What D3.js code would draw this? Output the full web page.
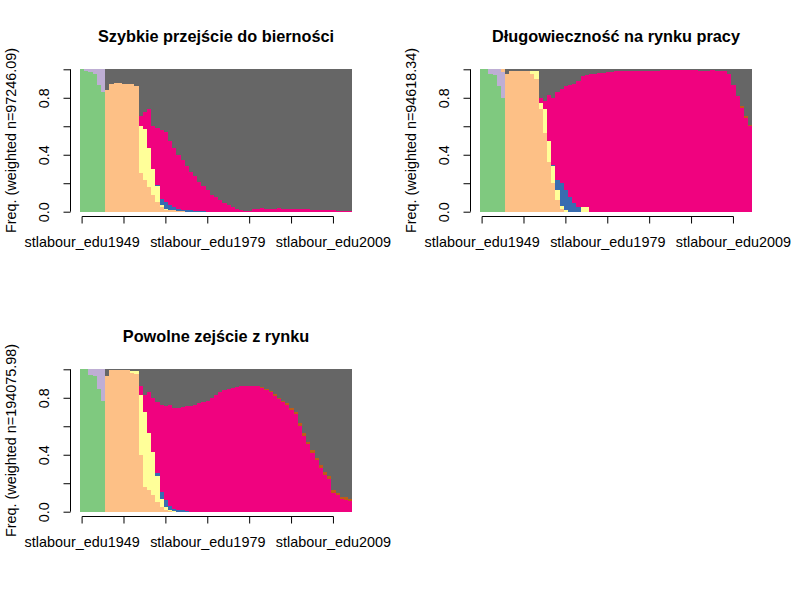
<!DOCTYPE html>
<html><head><meta charset="utf-8">
<script src="https://cdn.jsdelivr.net/npm/d3@7"></script>
<style>body{margin:0;background:#fff}svg{display:block}text{font-family:"Liberation Sans",Arial,sans-serif;fill:#000}</style>
</head><body>
<svg id="c" width="800" height="600"></svg>
<script>
// ---- categories (time columns) ----
const columns = ["stlabour_edu1949","stlabour_edu1950","stlabour_edu1951","stlabour_edu1952","stlabour_edu1953","stlabour_edu1954","stlabour_edu1955","stlabour_edu1956","stlabour_edu1957","stlabour_edu1958",
"stlabour_edu1959","stlabour_edu1960","stlabour_edu1961","stlabour_edu1962","stlabour_edu1963","stlabour_edu1964","stlabour_edu1965","stlabour_edu1966","stlabour_edu1967","stlabour_edu1968",
"stlabour_edu1969","stlabour_edu1970","stlabour_edu1971","stlabour_edu1972","stlabour_edu1973","stlabour_edu1974","stlabour_edu1975","stlabour_edu1976","stlabour_edu1977","stlabour_edu1978",
"stlabour_edu1979","stlabour_edu1980","stlabour_edu1981","stlabour_edu1982","stlabour_edu1983","stlabour_edu1984","stlabour_edu1985","stlabour_edu1986","stlabour_edu1987","stlabour_edu1988",
"stlabour_edu1989","stlabour_edu1990","stlabour_edu1991","stlabour_edu1992","stlabour_edu1993","stlabour_edu1994","stlabour_edu1995","stlabour_edu1996","stlabour_edu1997","stlabour_edu1998",
"stlabour_edu1999","stlabour_edu2000","stlabour_edu2001","stlabour_edu2002","stlabour_edu2003","stlabour_edu2004","stlabour_edu2005","stlabour_edu2006","stlabour_edu2007","stlabour_edu2008",
"stlabour_edu2009","stlabour_edu2010","stlabour_edu2011","stlabour_edu2012","stlabour_edu2013"];
const tickColumns = ["stlabour_edu1949","stlabour_edu1959","stlabour_edu1969","stlabour_edu1979","stlabour_edu1989","stlabour_edu1999","stlabour_edu2009"];
const tickLabels = ["stlabour_edu1949","","","stlabour_edu1979","","","stlabour_edu2009"];
const yTicks = [0,0.2,0.4,0.6,0.8,1.0];
const yTickLabels = ["0.0","","0.4","","0.8",""];
const states = ["A","B","C","D","E","F","G","H"];
const stateColors = ["#7FC97F","#BEAED4","#FDC086","#FFFF99","#386CB0","#F0027F","#BF5B17","#666666"];
const titles = ["Szybkie przejście do bierności","Długowieczność na rynku pracy","Powolne zejście z rynku"];
const yLabels = ["Freq. (weighted n=97246.09)","Freq. (weighted n=94618.34)","Freq. (weighted n=194075.98)"];

// ---- panel 1 ----
const p1A = [1.00,0.99,0.98,0.97,0.89,0.84,0,0,0,0,0,0,0,0,0,0,0,0,0,0,0,0,0,0,0,0,0,0,0,0,0,0,0,0,0,0,0,0,0,0,0,0,0,0,0,0,0,0,0,0,0,0,0,0,0,0,0,0,0,0,0,0,0,0,0];
const p1B = [0,0.01,0.02,0.03,0.11,0.16,0,0,0,0,0,0,0,0,0,0,0,0,0,0,0,0,0,0,0,0,0,0,0,0,0,0,0,0,0,0,0,0,0,0,0,0,0,0,0,0,0,0,0,0,0,0,0,0,0,0,0,0,0,0,0,0,0,0,0];
const p1C = [0,0,0,0,0,0,0.855,0.90,0.905,0.905,0.90,0.90,0.895,0.885,0.27,0.22,0.17,0.12,0.07,0.03,0.01,0.01,0.01,0.005,0.005,0,0,0,0,0,0,0,0,0,0,0,0,0,0,0,0,0,0,0,0,0,0,0,0,0,0,0,0,0,0,0,0,0,0,0,0,0,0,0,0];
const p1D = [0,0,0,0,0,0,0,0,0,0,0,0,0,0,0.33,0.36,0.28,0.18,0.11,0.02,0.01,0.005,0,0,0,0,0,0,0,0,0,0,0,0,0,0,0,0,0,0,0,0,0,0,0,0,0,0,0,0,0,0,0,0,0,0,0,0,0,0,0,0,0,0,0];
const p1E = [0,0,0,0,0,0,0,0,0,0,0,0,0,0,0,0,0,0,0.01,0.04,0.05,0.035,0.02,0.015,0.01,0.01,0.01,0.005,0.005,0.005,0,0,0,0,0,0,0,0,0,0,0,0,0,0,0,0,0,0,0,0,0,0,0,0,0,0,0,0,0,0,0,0,0,0,0];
const p1F = [0,0,0,0,0,0,0,0,0,0,0,0,0,0,0.07,0.12,0.27,0.30,0.40,0.485,0.49,0.45,0.42,0.38,0.345,0.31,0.27,0.245,0.205,0.175,0.15,0.12,0.10,0.08,0.06,0.045,0.03,0.02,0.01,0.003,0.005,0.018,0.022,0.024,0.022,0.02,0.022,0.025,0.022,0.02,0.02,0.018,0.018,0.016,0.016,0.015,0.015,0.014,0.012,0.01,0.01,0.008,0.008,0.006,0.005];
const p1G = [0,0,0,0,0,0,0,0,0,0,0,0,0,0,0,0,0,0,0,0,0,0,0,0,0,0,0,0,0,0,0,0,0,0,0,0,0,0,0,0,0,0,0,0,0,0,0,0,0,0,0,0,0,0,0,0,0,0,0,0,0,0,0,0,0];
const p1H = [0,0,0,0,0,0,0.145,0.10,0.095,0.095,0.10,0.10,0.105,0.115,0.33,0.30,0.28,0.40,0.41,0.425,0.44,0.50,0.55,0.60,0.64,0.68,0.72,0.75,0.79,0.82,0.85,0.88,0.90,0.92,0.94,0.955,0.97,0.98,0.99,0.997,0.995,0.982,0.978,0.976,0.978,0.98,0.978,0.975,0.978,0.98,0.98,0.982,0.982,0.984,0.984,0.985,0.985,0.986,0.988,0.99,0.99,0.992,0.992,0.994,0.995];

// ---- panel 2 ----
const p2A = [1.00,1.00,0.965,0.96,0.88,0.80,0,0,0,0,0,0,0,0,0,0,0,0,0,0,0,0,0,0,0,0,0,0,0,0,0,0,0,0,0,0,0,0,0,0,0,0,0,0,0,0,0,0,0,0,0,0,0,0,0,0,0,0,0,0,0,0,0,0,0];
const p2B = [0,0,0.035,0.04,0.12,0.18,0,0,0,0,0,0,0,0,0,0,0,0,0,0,0,0,0,0,0,0,0,0,0,0,0,0,0,0,0,0,0,0,0,0,0,0,0,0,0,0,0,0,0,0,0,0,0,0,0,0,0,0,0,0,0,0,0,0,0];
const p2C = [0,0,0,0,0,0.02,0.965,0.985,0.99,0.99,0.99,0.985,0.97,0.93,0.72,0.55,0.35,0.20,0.08,0.02,0,0,0,0,0,0,0,0,0,0,0,0,0,0,0,0,0,0,0,0,0,0,0,0,0,0,0,0,0,0,0,0,0,0,0,0,0,0,0,0,0,0,0,0,0];
const p2D = [0,0,0,0,0,0,0,0,0,0,0,0.005,0.02,0.06,0.04,0.17,0.15,0.12,0.07,0.02,0.01,0,0,0,0.035,0.03,0,0,0,0,0,0,0,0,0,0,0,0,0,0,0,0,0,0,0,0,0,0,0,0,0,0,0,0,0,0,0,0,0,0,0,0,0,0,0];
const p2E = [0,0,0,0,0,0,0,0,0,0,0,0,0,0,0,0,0,0.01,0.07,0.16,0.14,0.10,0.06,0.03,0,0,0,0,0,0,0,0,0,0,0,0,0,0,0,0,0,0,0,0,0,0,0,0,0,0,0,0,0,0,0,0,0,0,0,0,0,0,0,0,0];
const p2F = [0,0,0,0,0,0,0,0,0,0,0,0,0,0,0.04,0.06,0.32,0.47,0.62,0.66,0.73,0.79,0.84,0.89,0.915,0.93,0.97,0.97,0.975,0.975,0.98,0.98,0.985,0.985,0.985,0.99,0.985,0.985,0.985,0.99,0.99,0.99,0.99,0.995,0.995,0.995,0.995,0.995,0.995,0.995,0.995,0.995,0.99,0.99,0.99,0.995,0.99,0.99,0.985,0.97,0.89,0.81,0.73,0.66,0.60];
const p2G = [0,0,0,0,0,0,0,0,0,0,0,0,0,0,0,0,0,0,0,0,0,0,0,0,0,0,0,0,0,0,0,0,0,0,0,0,0,0,0,0,0,0,0,0,0,0,0,0,0,0,0,0,0,0,0,0,0,0,0,0,0,0,0.01,0.01,0.01];
const p2H = [0,0,0,0,0,0,0.035,0.015,0.01,0.01,0.01,0.01,0.01,0.01,0.20,0.22,0.18,0.20,0.16,0.14,0.12,0.11,0.10,0.08,0.05,0.04,0.03,0.03,0.025,0.025,0.02,0.02,0.015,0.015,0.015,0.01,0.015,0.015,0.015,0.01,0.01,0.01,0.01,0.005,0.005,0.005,0.005,0.005,0.005,0.005,0.005,0.005,0.01,0.01,0.01,0.005,0.01,0.01,0.015,0.03,0.11,0.19,0.26,0.33,0.39];

// ---- panel 3 ----
const p3A = [1.00,1.00,0.96,0.95,0.86,0.78,0,0,0,0,0,0,0,0,0,0,0,0,0,0,0,0,0,0,0,0,0,0,0,0,0,0,0,0,0,0,0,0,0,0,0,0,0,0,0,0,0,0,0,0,0,0,0,0,0,0,0,0,0,0,0,0,0,0,0];
const p3B = [0,0,0.04,0.05,0.14,0.22,0,0,0,0,0,0,0,0,0,0,0,0,0,0,0,0,0,0,0,0,0,0,0,0,0,0,0,0,0,0,0,0,0,0,0,0,0,0,0,0,0,0,0,0,0,0,0,0,0,0,0,0,0,0,0,0,0,0,0];
const p3C = [0,0,0,0,0,0,0.95,0.995,0.995,0.995,0.995,0.995,0.975,0.97,0.40,0.17,0.15,0.12,0.07,0.035,0.01,0.005,0,0,0,0,0,0,0,0,0,0,0,0,0,0,0,0,0,0,0,0,0,0,0,0,0,0,0,0,0,0,0,0,0,0,0,0,0,0,0,0,0,0,0];
const p3D = [0,0,0,0,0,0,0,0,0,0,0,0,0.015,0.02,0.42,0.53,0.40,0.30,0.18,0.055,0.025,0.005,0.005,0,0,0,0,0,0,0,0,0,0,0,0,0,0,0,0,0,0,0,0,0,0,0,0,0,0,0,0,0,0,0,0,0,0,0,0,0,0,0,0,0,0];
const p3E = [0,0,0,0,0,0,0,0,0,0,0,0,0,0,0,0,0,0,0.02,0.05,0.045,0.03,0.015,0.01,0.01,0.005,0,0,0,0,0,0,0,0,0,0,0,0,0,0,0,0,0,0,0,0,0,0,0,0,0,0,0,0,0,0,0,0,0,0,0,0,0,0,0];
const p3F = [0,0,0,0,0,0,0,0,0,0,0,0,0,0,0.06,0.12,0.29,0.38,0.50,0.61,0.66,0.71,0.71,0.72,0.725,0.735,0.745,0.75,0.76,0.77,0.78,0.80,0.82,0.84,0.855,0.86,0.87,0.875,0.88,0.885,0.885,0.885,0.88,0.87,0.857,0.84,0.815,0.79,0.768,0.748,0.715,0.685,0.60,0.53,0.475,0.415,0.36,0.31,0.26,0.23,0.13,0.115,0.09,0.085,0.075];
const p3G = [0,0,0,0,0,0,0,0,0,0,0,0,0,0,0,0,0,0,0,0,0,0,0,0,0,0,0,0,0,0,0,0,0,0,0,0,0,0,0,0,0,0,0,0.005,0.008,0.01,0.01,0.01,0.012,0.012,0.015,0.015,0.02,0.02,0.015,0.015,0.02,0.02,0.02,0.02,0.02,0.015,0.015,0.015,0.015];
const p3H = [0,0,0,0,0,0,0.05,0.005,0.005,0.005,0.005,0.005,0.01,0.01,0.12,0.18,0.16,0.20,0.23,0.25,0.26,0.25,0.27,0.27,0.265,0.26,0.255,0.25,0.24,0.23,0.22,0.20,0.18,0.16,0.145,0.14,0.13,0.125,0.12,0.115,0.115,0.115,0.12,0.125,0.135,0.15,0.175,0.20,0.22,0.24,0.27,0.30,0.38,0.45,0.51,0.57,0.62,0.67,0.72,0.75,0.85,0.87,0.895,0.90,0.91];

const panelSeries = [
  [p1A,p1B,p1C,p1D,p1E,p1F,p1G,p1H],
  [p2A,p2B,p2C,p2D,p2E,p2F,p2G,p2H],
  [p3A,p3B,p3C,p3D,p3E,p3F,p3G,p3H]
];
const offsets = [[0,0],[400,0],[0,300]];

const svg = d3.select("#c");
svg.append("rect").attr("width",800).attr("height",600).attr("fill","#fff");

const x = d3.scaleBand().domain(columns).range([80, 352.3]).padding(0);
const y = d3.scaleLinear().domain([0,1]).range([211.7, 69.3]);
const color = d3.scaleOrdinal().domain(states).range(stateColors);

panelSeries.forEach((series, p) => {
  const g = svg.append("g").attr("transform", `translate(${offsets[p][0]},${offsets[p][1]})`);
  const table = columns.map((c, i) => {
    const row = {col: c};
    states.forEach((s, k) => row[s] = series[k][i]);
    return row;
  });
  const stacked = d3.stack().keys(states)(table);
  g.append("g").attr("shape-rendering","crispEdges")
    .selectAll("g").data(stacked).join("g").attr("fill", d => color(d.key))
    .selectAll("rect").data(d => d).join("rect")
      .attr("x", d => x(d.data.col))
      .attr("width", x.bandwidth())
      .attr("y", d => y(d[1]))
      .attr("height", d => Math.max(0, y(d[0]) - y(d[1])));

  // y axis
  const yAxis = d3.axisLeft(y).tickValues(yTicks).tickFormat((d,i) => yTickLabels[i]).tickSize(7).tickPadding(0);
  const ya = g.append("g").attr("transform","translate(70.5,0)").call(yAxis);
  ya.select(".domain").attr("d", `M0,${y(0)}V${y(1)}`).attr("stroke","#000");
  ya.selectAll(".tick line").attr("stroke","#000");
  ya.selectAll(".tick text")
    .attr("x", null).attr("dy", null)
    .attr("transform","translate(-21.5,0) rotate(-90)")
    .attr("text-anchor","middle").attr("font-size","14.4px").attr("fill","#000");

  // x axis
  const xAxis = d3.axisBottom(x).tickValues(tickColumns).tickFormat((d,i) => tickLabels[i]).tickSize(7).tickPadding(0);
  const xa = g.append("g").attr("transform","translate(0,216.5)").call(xAxis);
  xa.select(".domain").attr("d", `M${x(tickColumns[0]) + x.bandwidth()/2},0H${x(tickColumns[tickColumns.length-1]) + x.bandwidth()/2}`).attr("stroke","#000");
  xa.selectAll(".tick line").attr("stroke","#000");
  xa.selectAll(".tick text").attr("y", 30.5).attr("dy", null).attr("font-size","14.4px").attr("fill","#000");
  xa.selectAll("text").attr("font-family",'"Liberation Sans",Arial,sans-serif');
  ya.selectAll("text").attr("font-family",'"Liberation Sans",Arial,sans-serif');

  // title
  g.append("text").attr("x", 216).attr("y", 41.7).attr("text-anchor","middle")
    .attr("font-weight","bold").attr("font-size","16.3px").text(titles[p]);
  // y label
  g.append("text").attr("transform","translate(15.5,140.5) rotate(-90)").attr("text-anchor","middle")
    .attr("font-size","14.4px").text(yLabels[p]);
});
</script>
</body></html>
